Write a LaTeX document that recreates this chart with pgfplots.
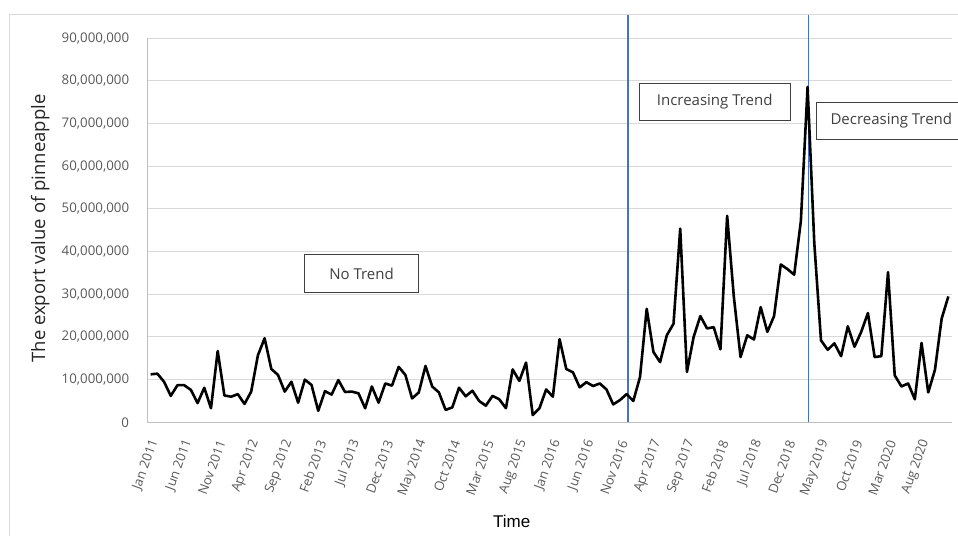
\documentclass[border=0pt]{standalone}
\usepackage{pgfplots}
\pgfplotsset{compat=1.18}
\usepackage{pgfplotstable}
\usepackage{fontspec}
\setmainfont{Open Sans}
\newfontfamily\arialfont{Liberation Sans}

\definecolor{gridgray}{HTML}{D9D9D9}
\definecolor{axisgray}{HTML}{BFBFBF}
\definecolor{ticktext}{HTML}{595959}
\definecolor{boxtext}{HTML}{404040}
\definecolor{titletext}{HTML}{262626}
\definecolor{trendblue}{HTML}{4472C4}

% monthly export value, Jan 2011 (0) to Dec 2020 (119)
\pgfplotstableread{
idx value
0 11250000
1 11400000
2 9500000
3 6200000
4 8700000
5 8700000
6 7600000
7 4500000
8 8100000
9 3300000
10 16700000
11 6300000
12 6000000
13 6600000
14 4300000
15 7200000
16 15700000
17 19700000
18 12500000
19 11100000
20 7200000
21 9500000
22 4600000
23 10000000
24 8750000
25 2700000
26 7300000
27 6500000
28 9900000
29 7100000
30 7200000
31 6800000
32 3300000
33 8400000
34 4600000
35 9100000
36 8600000
37 13000000
38 11100000
39 5600000
40 7000000
41 13200000
42 8400000
43 7000000
44 2900000
45 3500000
46 8100000
47 6100000
48 7400000
49 5000000
50 3900000
51 6200000
52 5400000
53 3300000
54 12400000
55 9700000
56 14000000
57 1700000
58 3300000
59 7700000
60 6000000
61 19500000
62 12500000
63 11700000
64 8200000
65 9400000
66 8500000
67 9100000
68 7700000
69 4200000
70 5200000
71 6600000
72 5000000
73 10600000
74 26600000
75 16500000
76 14100000
77 20400000
78 23100000
79 45400000
80 11800000
81 20000000
82 24900000
83 22000000
84 22300000
85 17100000
86 48400000
87 29400000
88 15300000
89 20400000
90 19400000
91 27000000
92 21200000
93 24900000
94 37000000
95 35900000
96 34600000
97 47200000
98 78600000
99 42000000
100 19200000
101 17000000
102 18500000
103 15500000
104 22500000
105 17700000
106 21200000
107 25600000
108 15300000
109 15500000
110 35200000
111 11000000
112 8400000
113 9100000
114 5400000
115 18600000
116 7000000
117 12300000
118 24300000
119 29500000
}\exportdata

\begin{document}
\begin{tikzpicture}[x=1pt,y=1pt]
\useasboundingbox (0,0) rectangle (958,-536);
% chart area frame
\draw[gridgray, line width=1pt] (9,-536) -- (9,-14) -- (958,-14);

\begin{axis}[
    at={(147.3pt,-422.3pt)}, anchor=south west,
    scale only axis, width=804.4pt, height=384pt,
    clip=false,
    xmin=-0.5, xmax=119.5,
    ymin=0, ymax=90000000,
    axis lines*=left,
    axis line style={-, axisgray, line width=1pt},
    major tick length=0pt,
    ymajorgrids,
    grid style={gridgray, line width=1pt},
    ytick={0,10000000,20000000,30000000,40000000,50000000,60000000,70000000,80000000,90000000},
    scaled y ticks=false,
    /pgf/number format/.cd, fixed, precision=0, 1000 sep={,}, assume math mode=true,
    /pgfplots/.cd,
    yticklabel style={font=\fontsize{13.3}{16}\selectfont, text=ticktext, anchor=east, inner sep=0pt, xshift=-18pt},
    xtick={0,5,...,115},
    xticklabels={Jan 2011,Jun 2011,Nov 2011,Apr 2012,Sep 2012,Feb 2013,Jul 2013,Dec 2013,May 2014,Oct 2014,Mar 2015,Aug 2015,Jan 2016,Jun 2016,Nov 2016,Apr 2017,Sep 2017,Feb 2018,Jul 2018,Dec 2018,May 2019,Oct 2019,Mar 2020,Aug 2020},
    xticklabel style={xshift=4pt, yshift=-18pt, rotate=70, anchor=east, inner sep=0pt, font=\fontsize{13}{15}\selectfont, text=ticktext},
]
% trend boundaries
\draw[trendblue, line width=1.2pt] (axis cs:71.2,0) -- (axis cs:71.2,95460000);
\draw[trendblue, line width=1.2pt] (axis cs:98.1,0) -- (axis cs:98.1,95460000);

\addplot[black, line width=2.6pt, line join=round] table[x=idx, y=value] {\exportdata};
\end{axis}

% annotations
\tikzset{trendbox/.style={draw=boxtext, line width=0.9pt, fill=white, text=boxtext,
    inner sep=0pt, font=\fontsize{15}{18}\selectfont}}
\node[trendbox, minimum width=113.6pt, minimum height=38.4pt] at (361.5,-273.5) {No Trend};
\node[trendbox, minimum width=150.7pt, minimum height=37.4pt] at (714.7,-102) {Increasing Trend};
% this box is cut by the right edge of the chart: no right side
\fill[white] (816.7,-102.7) rectangle (958,-139.3);
\draw[boxtext, line width=0.9pt] (958,-102.7) -- (816.7,-102.7) -- (816.7,-139.3) -- (958,-139.3);
\node[text=boxtext, font=\fontsize{15}{18}\selectfont, inner sep=0pt] at (891.3,-121) {Decreasing Trend};

% axis titles
\node[rotate=90, anchor=base, text=titletext, font=\fontsize{18.5}{22}\selectfont] at (45,-228.5) {The export value of pinneapple};
\node[anchor=base, font=\arialfont\fontsize{17}{20}\selectfont] at (511.7,-527) {Time};
\end{tikzpicture}
\end{document}
